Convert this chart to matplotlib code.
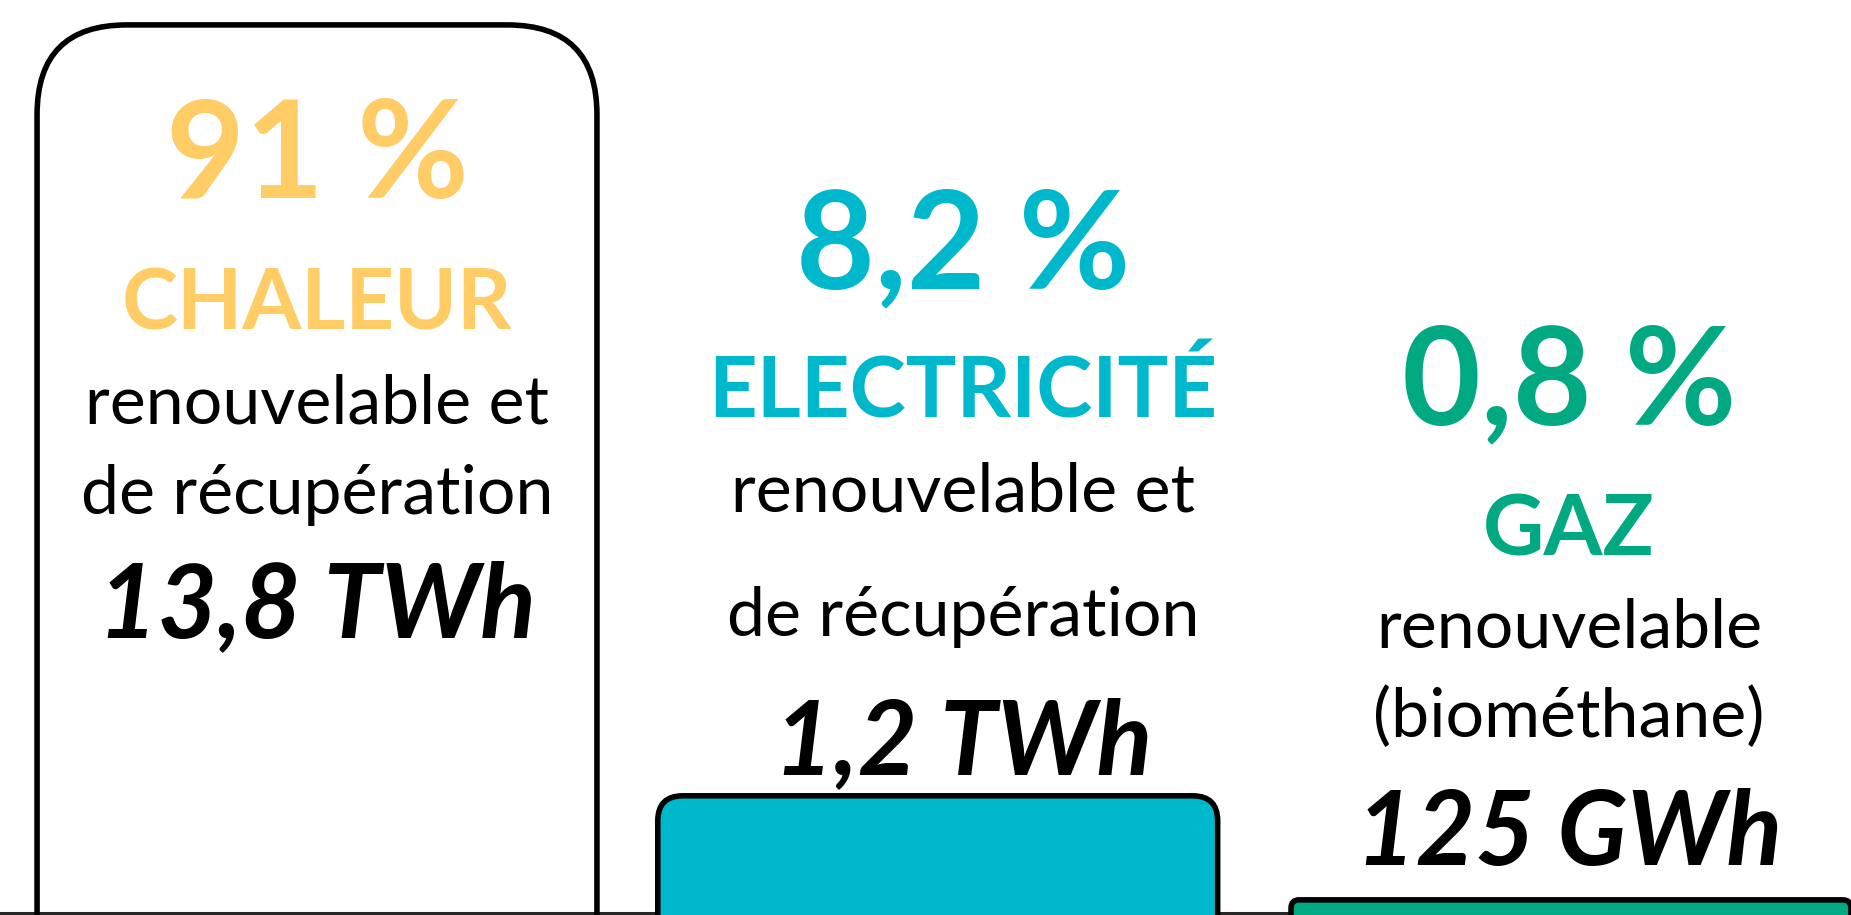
import numpy as np
import matplotlib.pyplot as plt
import matplotlib.patches as patches
from matplotlib import transforms

# ==========================================================
# data (bar heights are the drawn heights, not to scale)
categories = ["CHALEUR", "ELECTRICITÉ", "GAZ"]
shares = ["91 %", "8,2 %", "0,8 %"]
amounts = ["13,8 TWh", "1,2 TWh", "125 GWh"]
descriptions = [
    ["renouvelable et", "de récupération"],
    ["renouvelable et", "de récupération"],
    ["renouvelable", "(biométhane)"],
]
bar_heights = [91.0, 12.1, 1.45]

# colours
text_colors = ["#FFCC66", "#00B8CC", "#00A982"]
bar_faces = ["none", "#00B8CC", "#00A982"]

# ==========================================================
W, H, DPI = 1851, 915, 100
fig = plt.figure(figsize=(W / DPI, H / DPI), dpi=DPI)
ax = fig.add_axes([0, 0, 1, 1])
ax.set_axis_off()

xlim = (-0.5056, 2.4466)
ylim = (-0.1, 93.55)
ax.set_xlim(*xlim)
ax.set_ylim(*ylim)

# aspect so that the rounded corners come out circular
px_per_x = W / (xlim[1] - xlim[0])
px_per_y = H / (ylim[1] - ylim[0])
aspect = px_per_x / px_per_y

# bar slots (the middle one sits a touch to the left in the original)
x = np.array([0.0, 0.99, 2.0])
bars = ax.bar(x, bar_heights, width=0.893)

radii = [0.143, 0.040, 0.013]  # corner radius in x units
hidden = 15.0  # push the bottom of the boxes below the frame

for ind, rect in enumerate(bars):
    x0 = rect.get_x()
    w = rect.get_width()
    h = rect.get_height()
    box = patches.FancyBboxPatch(
        (x0, -hidden), w, h + hidden,
        boxstyle="round,pad=0,rounding_size=%g" % radii[ind],
        mutation_aspect=aspect,
        facecolor=bar_faces[ind], edgecolor="black", linewidth=4.0,
        zorder=3,
    )
    ax.add_patch(box)
    rect.remove()

# baseline
ax.axhline(0, color="#262626", linewidth=2.9, zorder=2)

# ==========================================================
# text blocks (x in data, y in axes fraction from pixel baselines)
trans = transforms.blended_transform_factory(ax.transData, ax.transAxes)
text_dx = [0.0, 0.04, -0.003]
baselines = [
    [198, 330, 423, 514, 637],
    [288, 417, 512, 636, 774],
    [424, 555, 648, 737, 865],
]
font = "Lato"


def yfrac(py):
    return 1 - py / H


for ind in range(len(categories)):
    xc = x[ind] + text_dx[ind]
    b = baselines[ind]
    ax.text(xc, yfrac(b[0]), shares[ind], transform=trans, ha="center",
            va="baseline", fontsize=98, fontweight="bold",
            color=text_colors[ind], family=font)
    ax.text(xc, yfrac(b[1]), categories[ind], transform=trans, ha="center",
            va="baseline", fontsize=61, fontweight="bold",
            color=text_colors[ind], family=font)
    for k, line in enumerate(descriptions[ind]):
        ax.text(xc, yfrac(b[2 + k]), line, transform=trans, ha="center",
                va="baseline", fontsize=49, color="black", family=font)
    ax.text(xc, yfrac(b[4]), amounts[ind], transform=trans, ha="center",
            va="baseline", fontsize=74, fontweight="bold", style="italic",
            color="black", family=font)

fig.savefig("out.png", dpi=DPI, facecolor="white")
